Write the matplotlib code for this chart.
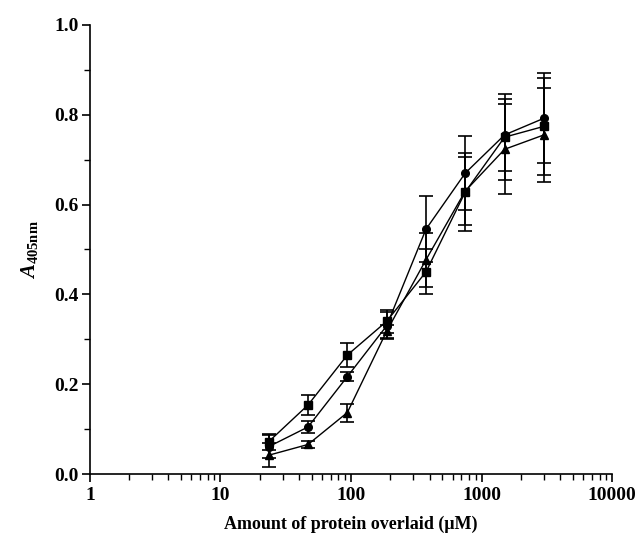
import numpy as np
import matplotlib
matplotlib.use('Agg')
from matplotlib import pyplot as plt
from matplotlib.ticker import LogLocator, MultipleLocator, FixedLocator, NullFormatter, FormatStrFormatter

plt.rcParams['font.family'] = 'Liberation Serif'
plt.rcParams['font.weight'] = 'bold'
plt.rcParams['mathtext.fontset'] = 'custom'
plt.rcParams['mathtext.it'] = 'Liberation Serif:italic:bold'
plt.rcParams['mathtext.bf'] = 'Liberation Serif:bold'
plt.rcParams['mathtext.rm'] = 'Liberation Serif:bold'

# protein concentration (uM), two-fold dilutions
conc = [23.4, 46.9, 93.75, 187.5, 375, 750, 1500, 3000]

sq_y = [0.072, 0.154, 0.265, 0.340, 0.450, 0.628, 0.750, 0.774]
sq_err = [0.018, 0.023, 0.026, 0.025, 0.050, 0.086, 0.095, 0.108]

ci_y = [0.061, 0.105, 0.217, 0.330, 0.545, 0.670, 0.755, 0.792]
ci_err = [0.025, 0.014, 0.010, 0.030, 0.073, 0.083, 0.080, 0.100]

tr_y = [0.042, 0.066, 0.137, 0.318, 0.477, 0.630, 0.723, 0.755]
tr_err = [0.027, 0.008, 0.020, 0.015, 0.060, 0.075, 0.100, 0.105]

x_ticks = [1, 10, 100, 1000, 10000]
x_tick_labels = ['1', '10', '100', '1000', '10000']

fig = plt.figure(figsize=(6.37, 5.4), dpi=100)
ax = fig.add_axes([0.141, 0.122, 0.82, 0.832])

for y, err, mk in [(sq_y, sq_err, 's'), (ci_y, ci_err, 'o'), (tr_y, tr_err, '^')]:
    ax.errorbar(conc, y, yerr=err, fmt=mk + '-', color='black', ms=5.5,
                lw=1.0, elinewidth=1.2, capsize=5, capthick=1.2)

ax.set_xscale('log')
ax.set_xlim(1, 10000)
ax.set_ylim(0, 1.0)
ax.xaxis.set_major_locator(FixedLocator(x_ticks))
ax.set_xticklabels(x_tick_labels)
ax.xaxis.set_minor_locator(LogLocator(base=10, subs=np.arange(2, 10)))
ax.xaxis.set_minor_formatter(NullFormatter())
ax.yaxis.set_major_locator(MultipleLocator(0.2))
ax.yaxis.set_minor_locator(MultipleLocator(0.1))
ax.yaxis.set_major_formatter(FormatStrFormatter('%.1f'))

ax.spines['top'].set_visible(False)
ax.spines['right'].set_visible(False)
ax.spines['left'].set_linewidth(1.2)
ax.spines['bottom'].set_linewidth(1.2)
ax.tick_params(which='major', direction='out', length=6, width=1.2, labelsize=14)
ax.tick_params(axis='y', which='major', pad=2)
ax.tick_params(which='minor', direction='out', length=4, width=1.0)

ax.set_xlabel('Amount of protein overlaid (\u03bcM)', fontsize=13, fontweight='bold', labelpad=8)
ax.set_ylabel(r'$\mathit{A}_{\mathbf{405nm}}$', fontsize=15, labelpad=10)

plt.savefig('out.png', dpi=100)
